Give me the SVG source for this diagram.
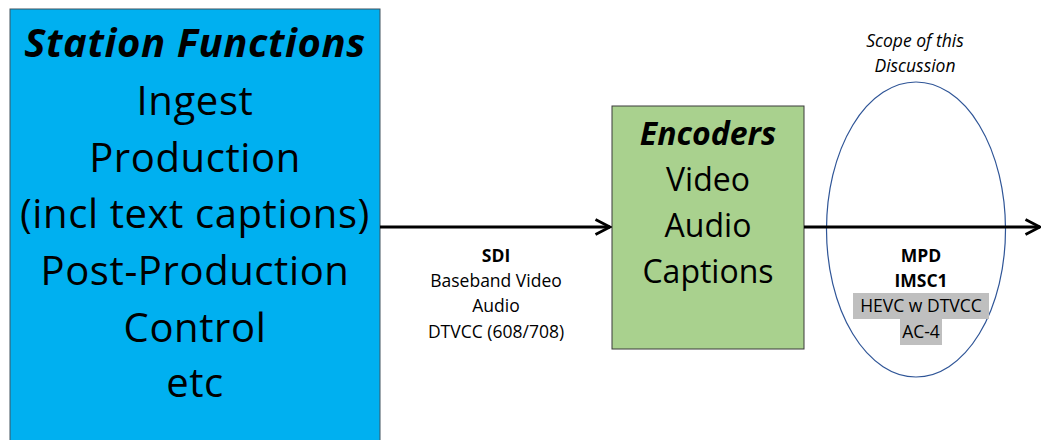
<svg xmlns="http://www.w3.org/2000/svg" width="1041" height="440" viewBox="0 0 1041 440">
  <style>
    text { font-family: "Open Sans", Lato, sans-serif; fill: #000; text-anchor: middle; }
    .big { font-size: 40px; letter-spacing: 0.6px; }
    .mid { font-size: 32px; }
    .small { font-size: 17.5px; }
    .b { font-weight: bold; }
    .i { font-style: italic; }
    .wire { stroke: #000; stroke-width: 3; fill: none; }
  </style>
  <defs>
    <marker id="chev" markerWidth="18" markerHeight="18" refX="16" refY="9" orient="auto" markerUnits="userSpaceOnUse">
      <path d="M1.5,1.5 L16,9 L1.5,16.5" fill="none" stroke="#000" stroke-width="2.8"/>
    </marker>
  </defs>

  <g id="station">
    <rect x="10" y="9" width="370" height="440" fill="#00B0F0" stroke="#41535f" stroke-width="1"/>
    <text class="big b i" x="195" y="57">Station Functions</text>
    <text class="big" x="195" y="115">Ingest</text>
    <text class="big" x="195" y="172">Production</text>
    <text class="big" x="195" y="228">(incl text captions)</text>
    <text class="big" x="195" y="285">Post-Production</text>
    <text class="big" x="195" y="342">Control</text>
    <text class="big" x="195" y="397">etc</text>
  </g>

  <g id="encoders">
    <rect x="612" y="106" width="192" height="243" fill="#A9D18E" stroke="#3a3a3a" stroke-width="1"/>
    <text class="mid b i" x="708" y="145">Encoders</text>
    <text class="mid" x="708" y="191">Video</text>
    <text class="mid" x="708" y="237">Audio</text>
    <text class="mid" x="708" y="283">Captions</text>
  </g>

  <g id="scope">
    <ellipse cx="916" cy="229.5" rx="89.5" ry="147.5" fill="none" stroke="#2F5597" stroke-width="1.2"/>
    <text class="small i" x="915" y="47">Scope of this</text>
    <text class="small i" x="915" y="72">Discussion</text>
  </g>

  <g id="connectors">
    <line class="wire" x1="380" y1="227" x2="610" y2="227" marker-end="url(#chev)"/>
    <line class="wire" x1="804" y1="227" x2="1040" y2="227" marker-end="url(#chev)"/>
  </g>

  <g id="sdi-label">
    <text class="small b" x="496" y="262">SDI</text>
    <text class="small" x="496" y="287">Baseband Video</text>
    <text class="small" x="496" y="312">Audio</text>
    <text class="small" x="496" y="338">DTVCC (608/708)</text>
  </g>

  <g id="output-label">
    <rect x="853" y="293" width="136" height="26" fill="#BFBFBF"/>
    <rect x="900" y="319" width="42" height="26" fill="#BFBFBF"/>
    <text class="small b" x="921" y="262">MPD</text>
    <text class="small b" x="921" y="287">IMSC1</text>
    <text class="small" x="921" y="312">HEVC w DTVCC</text>
    <text class="small" x="921" y="338">AC-4</text>
  </g>
</svg>
